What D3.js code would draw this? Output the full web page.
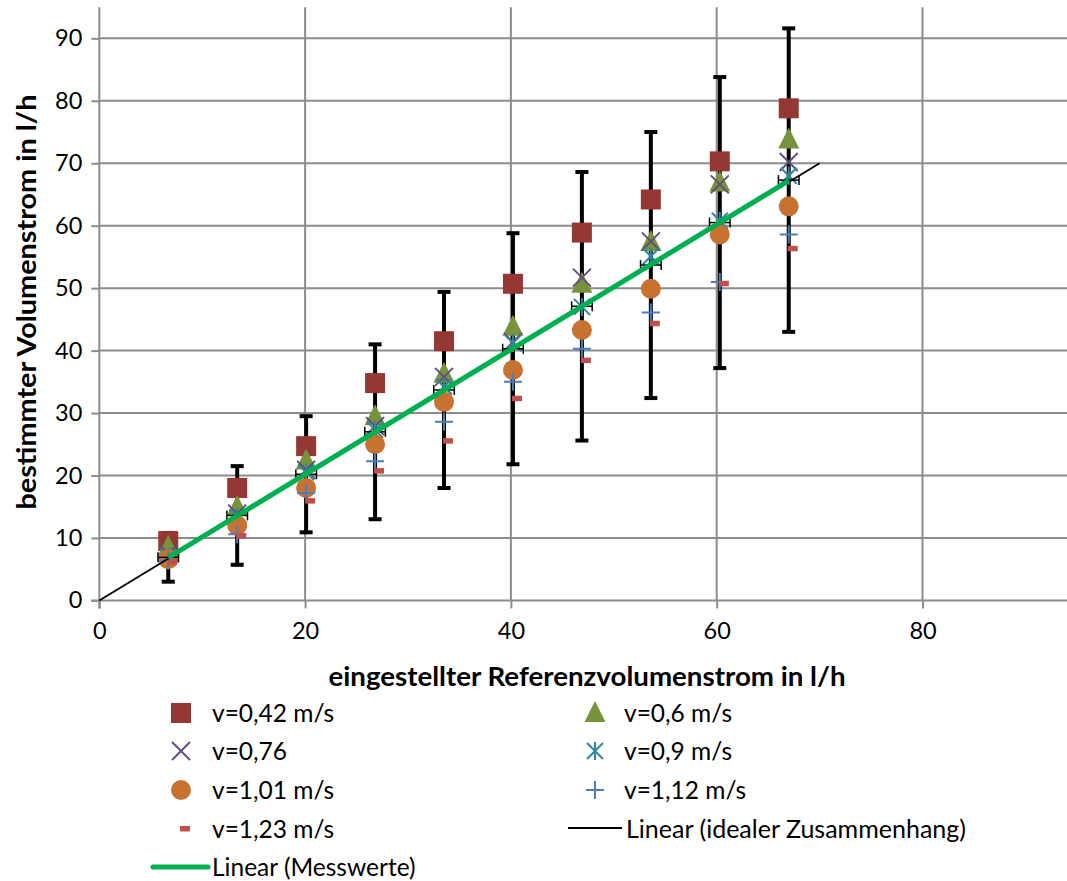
<!DOCTYPE html>
<html>
<head>
<meta charset="utf-8">
<script src="https://cdn.jsdelivr.net/npm/d3@7/dist/d3.min.js"></script>
<style>
  html, body { margin: 0; padding: 0; background: #fff; }
  svg { display: block; }
  text { font-family: Lato, "Open Sans", sans-serif; fill: #000; }
</style>
</head>
<body>
<svg id="chart" width="1067" height="881"></svg>
<script>
// ---------------- data ----------------
const xRef      = [6.7, 13.4, 20.1, 26.8, 33.5, 40.2, 46.9, 53.6, 60.3, 67.0];
const messMean  = [6.9, 13.6, 20.2, 27.0, 33.7, 40.3, 47.1, 53.7, 60.5, 67.3];
const messErrY  = [3.9, 7.9, 9.3, 14.0, 15.7, 18.5, 21.5, 21.3, 23.3, 24.3];
const messErrX  = [1.0, 1.0, 1.0, 1.0, 1.0, 1.0, 1.0, 1.0, 1.0, 1.0];

const v042 = [9.5, 18.0, 24.7, 34.8, 41.5, 50.7, 58.9, 64.2, 70.3, 78.8];
const v060 = [8.6, 15.0, 22.4, 29.5, 36.3, 43.8, 50.7, 57.4, 66.9, 73.8];
const v076 = [7.5, 13.9, 20.9, 27.9, 35.8, 41.4, 51.7, 57.5, 66.6, 70.2];
const v090 = [7.0, 13.3, 20.5, 27.3, 34.2, 41.2, 47.0, 55.1, 60.8, 68.0];
const v101 = [6.6, 12.0, 18.0, 25.0, 31.8, 36.9, 43.3, 49.9, 58.6, 63.1];
const v112 = [6.4, 10.6, 17.2, 22.3, 28.6, 35.0, 40.3, 46.1, 51.0, 58.6];
const v123 = [6.1, 10.3, 15.9, 20.7, 25.5, 32.3, 38.4, 44.3, 50.7, 56.3];

const idealX = [0, 70];
const idealY = [0, 70];

const xTicks = [0, 20, 40, 60, 80];
const yTicks = [0, 10, 20, 30, 40, 50, 60, 70, 80, 90];

const seriesNames = ["v=0,42 m/s", "v=0,6 m/s", "v=0,76", "v=0,9 m/s",
                     "v=1,01 m/s", "v=1,12 m/s", "v=1,23 m/s"];
const lineNames = ["Linear (idealer Zusammenhang)", "Linear (Messwerte)"];
const xTitle = "eingestellter Referenzvolumenstrom in l/h";
const yTitle = "bestimmter Volumenstrom in l/h";

// ---------------- setup ----------------
const svg = d3.select("#chart");
const x = d3.scaleLinear().domain([0, 95]).range([99.3, 99.3 + 95 * 10.29]);
const y = d3.scaleLinear().domain([0, 95]).range([600.4, 600.4 - 95 * 6.245]);

const gridColor = "#8c8c8c";

// gridlines
const g = svg.append("g");
g.append("g").selectAll("line").data(yTicks.filter(d => d > 0)).join("line")
  .attr("x1", x(0)).attr("x2", x(95)).attr("y1", d => y(d)).attr("y2", d => y(d))
  .attr("stroke", gridColor).attr("stroke-width", 2);
g.append("g").selectAll("line").data(xTicks.filter(d => d > 0)).join("line")
  .attr("y1", y(0)).attr("y2", y(95)).attr("x1", d => x(d)).attr("x2", d => x(d))
  .attr("stroke", gridColor).attr("stroke-width", 2);

// axes
const xAxis = d3.axisBottom(x).tickValues(xTicks).tickSize(8).tickPadding(14);
const yAxis = d3.axisLeft(y).tickValues(yTicks).tickSize(8).tickPadding(9);
const gx = svg.append("g").attr("transform", `translate(0,${y(0)})`).call(xAxis);
const gy = svg.append("g").attr("transform", `translate(${x(0)},0)`).call(yAxis);
[gx, gy].forEach(a => {
  a.select(".domain").attr("stroke", gridColor).attr("stroke-width", 2);
  a.selectAll(".tick line").attr("stroke", gridColor).attr("stroke-width", 2);
  a.selectAll(".tick text").style("font-family", "Lato, sans-serif")
    .style("font-size", "23.5px").attr("fill", "#000");
});
gy.select(".domain").attr("d", `M0,${y(0)+8}V${y(95)}`);
gx.select(".domain").attr("d", `M${x(0)-8},0H${x(95)}`);

// titles
svg.append("text").attr("x", 587).attr("y", 686).attr("text-anchor", "middle")
  .style("font-weight", "bold").style("font-size", "27px")
  .attr("textLength", 517).attr("lengthAdjust", "spacingAndGlyphs").text(xTitle);
svg.append("text").attr("transform", "translate(36,302) rotate(-90)").attr("text-anchor", "middle")
  .style("font-weight", "bold").style("font-size", "27px")
  .attr("textLength", 415).attr("lengthAdjust", "spacingAndGlyphs").text(yTitle);

// ---------------- markers ----------------
const markerDefs = [
  { data: v042, color: "#953735", type: "square" },
  { data: v060, color: "#77933C", type: "triangle" },
  { data: v076, color: "#604A7B", type: "x" },
  { data: v090, color: "#31859C", type: "star" },
  { data: v101, color: "#C77230", type: "circle" },
  { data: v112, color: "#4A7EBB", type: "plus" },
  { data: v123, color: "#C0504D", type: "dash" }
];

function drawMarker(sel, type, color) {
  switch (type) {
    case "square":
      sel.append("rect").attr("x", -10).attr("y", -10).attr("width", 20).attr("height", 20)
        .attr("fill", color); break;
    case "triangle":
      sel.append("path").attr("d", "M0,-12L10.5,9L-10.5,9Z").attr("fill", color); break;
    case "circle":
      sel.append("circle").attr("r", 10).attr("fill", color); break;
    case "x":
      sel.append("path").attr("d", "M-9,-9L9,9M-9,9L9,-9").attr("stroke", color)
        .attr("stroke-width", 1.8).attr("fill", "none"); break;
    case "star":
      sel.append("path").attr("d", "M-8,-8L8,8M-8,8L8,-8M0,-9V9").attr("stroke", color)
        .attr("stroke-width", 2).attr("fill", "none"); break;
    case "plus":
      sel.append("path").attr("d", "M-9,0H9M0,-9V9").attr("stroke", color)
        .attr("stroke-width", 2).attr("fill", "none"); break;
    case "dash":
      sel.append("rect").attr("x", -1).attr("y", -3).attr("width", 10).attr("height", 5.5)
        .attr("fill", color); break;
  }
}

// vertical error bars (Messwerte)
const eb = svg.append("g").attr("stroke", "#000");
xRef.forEach((xv, i) => {
  const m = messMean[i], e = messErrY[i];
  eb.append("line").attr("x1", x(xv)).attr("x2", x(xv)).attr("y1", y(m - e)).attr("y2", y(m + e))
    .attr("stroke-width", 4);
  [m - e, m + e].forEach(v => {
    eb.append("line").attr("x1", x(xv) - 6.5).attr("x2", x(xv) + 6.5).attr("y1", y(v)).attr("y2", y(v))
      .attr("stroke-width", 4);
  });
});

// series markers
markerDefs.forEach(s => {
  const gs = svg.append("g");
  s.data.forEach((v, i) => {
    const mg = gs.append("g").attr("transform", `translate(${x(xRef[i])},${y(v)})`);
    drawMarker(mg, s.type, s.color);
  });
});

// horizontal error bars (Messwerte)
const hb = svg.append("g").attr("stroke", "#000").attr("stroke-width", 1.5);
xRef.forEach((xv, i) => {
  const m = messMean[i], e = messErrX[i];
  hb.append("line").attr("x1", x(xv - e)).attr("x2", x(xv + e)).attr("y1", y(m)).attr("y2", y(m));
  [xv - e, xv + e].forEach(v => {
    hb.append("line").attr("x1", x(v)).attr("x2", x(v)).attr("y1", y(m) - 5).attr("y2", y(m) + 5);
  });
});

// ideal line
svg.append("line").attr("x1", x(idealX[0])).attr("y1", y(idealY[0]))
  .attr("x2", x(idealX[1])).attr("y2", y(idealY[1]))
  .attr("stroke", "#000").attr("stroke-width", 1.8);

// linear trend of Messwerte (least squares)
const mx = d3.mean(xRef), my = d3.mean(messMean);
const slope = d3.sum(xRef.map((xv, i) => (xv - mx) * (messMean[i] - my))) /
              d3.sum(xRef.map(xv => (xv - mx) ** 2));
const icpt = my - slope * mx;
const x0 = d3.min(xRef), x1 = d3.max(xRef);
svg.append("line").attr("x1", x(x0)).attr("y1", y(icpt + slope * x0))
  .attr("x2", x(x1)).attr("y2", y(icpt + slope * x1))
  .attr("stroke", "#00B050").attr("stroke-width", 5);

// ---------------- legend ----------------
const leg = svg.append("g");
const rowY = [713, 751, 790, 829, 867];
const colMarkerX = [181, 595];
const colTextX = [212, 624];
const legFont = "24.5px";
markerDefs.forEach((s, i) => {
  const col = i % 2, row = Math.floor(i / 2);
  const mg = leg.append("g").attr("transform", `translate(${colMarkerX[col]},${rowY[row]})`);
  drawMarker(mg, s.type, s.color);
  leg.append("text").attr("x", colTextX[col]).attr("y", rowY[row] + 9)
    .style("font-size", legFont).text(seriesNames[i]);
});
// ideal line legend (row 4, col 2)
leg.append("line").attr("x1", 568).attr("x2", 622).attr("y1", rowY[3] - 1).attr("y2", rowY[3] - 1)
  .attr("stroke", "#000").attr("stroke-width", 1.8);
leg.append("text").attr("x", 626).attr("y", rowY[3] + 9).style("font-size", legFont)
  .attr("textLength", 340).attr("lengthAdjust", "spacingAndGlyphs").text(lineNames[0]);
// Messwerte trend legend (row 5, col 1)
leg.append("line").attr("x1", 153).attr("x2", 208).attr("y1", rowY[4]).attr("y2", rowY[4])
  .attr("stroke", "#00B050").attr("stroke-width", 5).attr("stroke-linecap", "round");
leg.append("text").attr("x", 212).attr("y", rowY[4] + 9).style("font-size", legFont).text(lineNames[1]);
</script>
</body>
</html>
